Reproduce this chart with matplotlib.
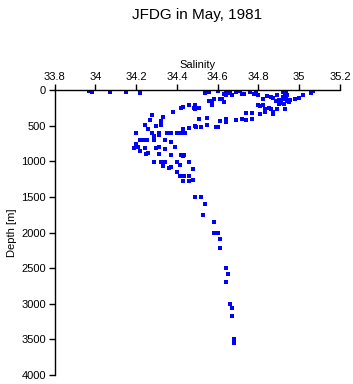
import matplotlib
matplotlib.use("Agg")
import matplotlib.pyplot as plt

plt.rcParams['font.family'] = ['Liberation Sans', 'DejaVu Sans']

title = "JFDG in May, 1981"
xlabel = "Salinity"
ylabel = "Depth [m]"
xticks = [33.8, 34.0, 34.2, 34.4, 34.6, 34.8, 35.0, 35.2]
xticklabels = ["33.8", "34", "34.2", "34.4", "34.6", "34.8", "35", "35.2"]
yticks = [0, 500, 1000, 1500, 2000, 2500, 3000, 3500, 4000]

salinity = [
    33.97, 33.985, 34.07, 34.15, 34.22,
    34.46, 34.49, 34.485, 34.42, 34.38, 34.28, 34.33, 34.27, 34.32, 34.245,
    34.30, 34.32, 34.26, 34.43, 34.46, 34.49, 34.20, 34.28, 34.31, 34.35,
    34.37, 34.40, 34.43, 34.29, 34.31, 34.22, 34.24, 34.255, 34.29, 34.34,
    34.37, 34.20, 34.21, 34.19, 34.245, 34.30, 34.31, 34.34, 34.39, 34.22,
    34.25, 34.26, 34.31, 34.37, 34.42, 34.43, 34.29, 34.32, 34.34, 34.40,
    34.46, 34.33, 34.36, 34.37, 34.415, 34.48, 34.40, 34.415, 34.435, 34.46,
    34.43, 34.46, 34.48, 34.49, 34.52, 34.54, 34.53, 34.58, 34.58, 34.60,
    34.61, 34.61, 34.64, 34.65, 34.64, 34.66, 34.67, 34.67, 34.68, 34.68,
    34.54, 34.54, 34.56, 34.60, 34.64, 34.63, 34.64, 34.66, 34.67, 34.69,
    34.71, 34.72, 34.76, 34.78, 34.79, 34.80, 34.84, 34.82, 34.89, 34.90,
    34.91, 34.92, 34.935, 34.93, 34.92, 34.935, 34.90, 34.89, 34.87, 34.87,
    34.93, 34.85, 34.83, 34.81, 34.82, 34.80, 34.77, 34.74, 34.98, 35.00,
    35.02, 35.06, 35.07, 34.57, 34.58, 34.56, 34.61, 34.63, 34.57, 34.43,
    34.46, 34.49, 34.49, 34.51, 34.51, 34.55, 34.61, 34.64, 34.64, 34.69,
    34.72, 34.74, 34.77, 34.495, 34.52, 34.55, 34.59, 34.60, 34.46, 34.43,
    34.44, 34.42, 34.42, 34.435,
    34.67, 34.73, 34.86, 34.87, 34.62, 34.83, 34.86, 34.81,
    34.92, 34.94, 34.95, 34.94, 34.955, 34.885, 34.925,
]

depth = [
    10, 24, 24, 32, 42,
    211, 211, 257, 257, 309, 355, 383, 421, 431, 496,
    510, 487, 543, 543, 534, 510, 608, 608, 608, 608,
    608, 608, 600, 646, 632, 706, 702, 702, 706, 706,
    734, 754, 804, 814, 810, 810, 804, 833, 804, 861,
    899, 880, 899, 908, 908, 927, 1007, 1007, 1007, 1007,
    1007, 1071, 1091, 1077, 1053, 1113, 1151, 1212, 1212, 1203,
    1273, 1282, 1264, 1507, 1507, 1605, 1751, 1849, 2008, 2012,
    2096, 2222, 2503, 2583, 2700, 3005, 3065, 3177, 3500, 3556,
    10, 46, 24, 10, 10, 56, 70, 38, 70, 24,
    10, 56, 28, 56, 10, 70, 84, 131, 70, 140,
    178, 131, 131, 84, 24, 10, 197, 271, 313, 341,
    263, 257, 309, 337, 211, 211, 319, 327, 131, 112,
    70, 38, 14, 150, 131, 150, 131, 168, 211, 243,
    215, 211, 263, 253, 411, 393, 439, 411, 449, 421,
    411, 425, 411, 515, 515, 496, 515, 515, 538, 562,
    600, 608, 913, 917,
    70, 56, 94, 117, 126, 267, 267, 220,
    98, 155, 168, 70, 140, 155, 197,
]

fig = plt.figure(figsize=(3.53, 3.84), dpi=100)
ax = fig.add_axes([54.5 / 353, 1 - 375 / 384, (340 - 54.5) / 353, (375 - 90) / 384])

ax.scatter(salinity, depth, marker='s', s=5, color='#0000ff', linewidths=0)

ax.set_xlim(33.8, 35.2)
ax.set_ylim(4000, 0)
ax.xaxis.tick_top()
ax.xaxis.set_label_position('top')
ax.set_xticks(xticks)
ax.set_xticklabels(xticklabels)
ax.set_yticks(yticks)
ax.tick_params(direction='out', length=4, width=1, labelsize=8, pad=2)
ax.set_xlabel(xlabel, fontsize=8, labelpad=3)
ax.set_ylabel(ylabel, fontsize=8, labelpad=3)
for side in ['right', 'bottom']:
    ax.spines[side].set_visible(False)
for side in ['left', 'top']:
    ax.spines[side].set_linewidth(1)
ax.patch.set_visible(False)

fig.text((54.5 + 340) / 2 / 353, 1 - 15 / 384, title, ha='center', va='center', fontsize=11)

fig.savefig('out.png', dpi=100)
